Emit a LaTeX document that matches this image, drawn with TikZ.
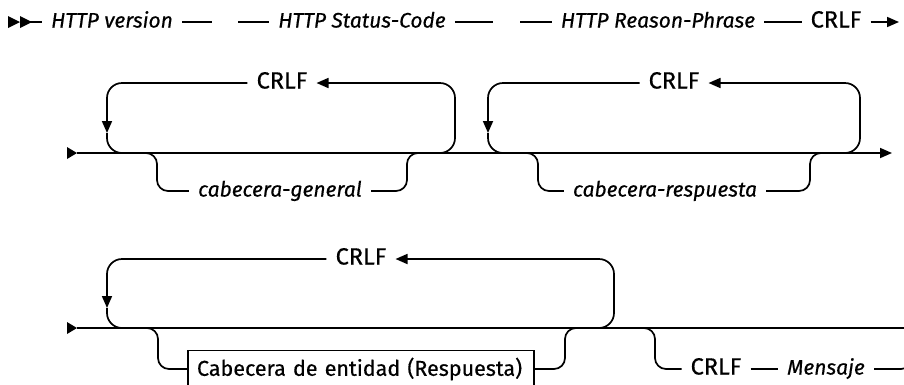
\documentclass[tikz,border=0pt]{standalone}
\usepackage{fontspec}
\setmainfont{Fira Sans}[FakeBold=0.5]
\usetikzlibrary{arrows.meta}
\begin{document}
\fontsize{21}{25}\selectfont
\begin{tikzpicture}[x=1pt,y=-1pt,>={Triangle[length=12pt,width=10pt]},
 rail/.style={line width=1.7pt},
 looprail/.style={rail,rounded corners=15pt},
 branchrail/.style={rail,rounded corners=11pt},
 nt/.style={anchor=mid,inner xsep=9pt,inner ysep=0pt,font=\itshape},
 kw/.style={anchor=mid,inner xsep=9pt,inner ysep=0pt,font=\fontsize{23.5}{28}\selectfont},
 entbox/.style={draw,line width=1.7pt,text width=328pt,align=left,inner xsep=9pt,minimum height=34pt,font=\fontsize{21.5}{26}\selectfont}]
 \clip (0,0) rectangle (904,384);
 \begin{scope}
  \fill (8,16) -- (20,22) -- (8,28) -- cycle;
  \fill (20,16) -- (32,22) -- (20,28) -- cycle;
  \coordinate (st1) at (20,22);
  \node[nt] (ver) at (112,22) {HTTP version};
  \coordinate (g1a) at (212,22);
  \coordinate (g1b) at (238,22);
  \node[nt] (code) at (362,22) {HTTP Status-Code};
  \coordinate (g2a) at (493,22);
  \coordinate (g2b) at (520,22);
  \node[nt] (phrase) at (658,22) {HTTP Reason-Phrase};
  \node[kw] (crlf0) at (836,22) {CRLF};
  \coordinate (end1) at (899,22);
  \draw[rail] (st1) -- (ver.mid west);
  \draw[rail] (ver.mid east) -- (g1a);
  \draw[rail] (g1b) -- (code.mid west);
  \draw[rail] (code.mid east) -- (g2a);
  \draw[rail] (g2b) -- (phrase.mid west);
  \draw[rail] (phrase.mid east) -- (crlf0.mid west);
  \draw[rail,->] (crlf0.mid east) -- (end1);
 \end{scope}
 \begin{scope}
  \fill (67,147) -- (77,153) -- (67,159) -- cycle;
  \coordinate (st2) at (77,153);
  \coordinate (end2) at (892,153);
  \draw[rail,->] (st2) -- (end2);
  \node[kw] (crlf1) at (282,83) {CRLF};
  \coordinate (l1in) at (127,153);
  \coordinate (l1dn) at (107,133);
  \coordinate (l1out) at (440,153);
  \coordinate (l1up) at (455,83);
  \draw[looprail,->] (l1out) -| (l1up) -- (crlf1.mid east);
  \draw[looprail,->] (crlf1.mid west) -| (l1dn);
  \draw[looprail] (l1dn) |- (l1in);
  \node[nt] (gen) at (280,191) {cabecera-general};
  \coordinate (b1in) at (140,153);
  \coordinate (b1dn) at (157,191);
  \coordinate (b1up) at (407,153);
  \coordinate (b1out) at (422,153);
  \draw[branchrail] (b1in) -| (b1dn) -- (gen.mid west);
  \draw[branchrail] (gen.mid east) -| (b1up) -- (b1out);
  \node[kw] (crlf2) at (674,83) {CRLF};
  \coordinate (l2in) at (508,153);
  \coordinate (l2dn) at (488,133);
  \coordinate (l2out) at (845,153);
  \coordinate (l2up) at (860,83);
  \draw[looprail,->] (l2out) -| (l2up) -- (crlf2.mid east);
  \draw[looprail,->] (crlf2.mid west) -| (l2dn);
  \draw[looprail] (l2dn) |- (l2in);
  \node[nt] (resp) at (665,191) {cabecera-respuesta};
  \coordinate (b2in) at (521,153);
  \coordinate (b2dn) at (538,191);
  \coordinate (b2up) at (810,153);
  \coordinate (b2out) at (825,153);
  \draw[branchrail] (b2in) -| (b2dn) -- (resp.mid west);
  \draw[branchrail] (resp.mid east) -| (b2up) -- (b2out);
 \end{scope}
 \begin{scope}
  \fill (67,322) -- (77,328) -- (67,334) -- cycle;
  \coordinate (st3) at (77,328);
  \coordinate (end3) at (912,328);
  \draw[rail] (st3) -- (end3);
  \node[kw] (crlf3) at (361,259) {CRLF};
  \coordinate (l3in) at (127,328);
  \coordinate (l3dn) at (107,308);
  \coordinate (l3out) at (598,328);
  \coordinate (l3up) at (614,259);
  \draw[looprail,->] (l3out) -| (l3up) -- (crlf3.mid east);
  \draw[looprail,->] (crlf3.mid west) -| (l3dn);
  \draw[looprail] (l3dn) |- (l3in);
  \node[entbox] (ent) at (361,369) {Cabecera de entidad (Respuesta)};
  \coordinate (b3in) at (141,328);
  \coordinate (b3dn) at (158,369);
  \coordinate (b3up) at (565,328);
  \coordinate (b3out) at (580,328);
  \draw[branchrail] (b3in) -| (b3dn) -- (ent.west);
  \draw[branchrail] (ent.east) -| (b3up) -- (b3out);
  \node[kw] (crlf4) at (716,369) {CRLF};
  \node[nt] (msg) at (826,369) {Mensaje};
  \coordinate (b4in) at (638,328);
  \coordinate (b4dn) at (655,369);
  \coordinate (b4up) at (912,328);
  \draw[branchrail] (b4in) -| (b4dn) -- (crlf4.mid west);
  \draw[rail] (crlf4.mid east) -- (msg.mid west);
  \draw[branchrail] (msg.mid east) -| (b4up);
 \end{scope}
\end{tikzpicture}
\end{document}
